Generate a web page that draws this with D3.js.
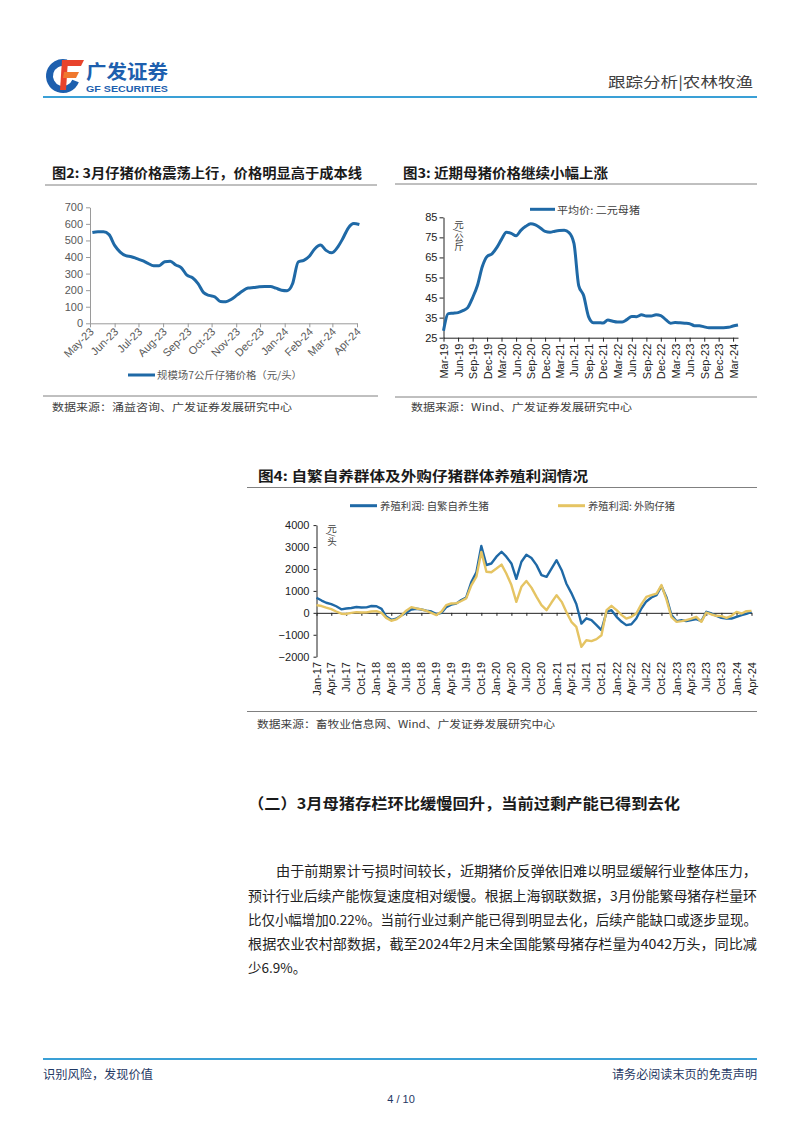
<!DOCTYPE html>
<html>
<head>
<meta charset="utf-8">
<script src="https://cdn.jsdelivr.net/npm/d3@7"></script>
<style>
  body { margin: 0; background: #fff; }
  svg text { font-family: "Noto Sans CJK SC", "Noto Sans", sans-serif; }
  svg .num text, svg text.num { font-family: "Liberation Sans", Arial, sans-serif; }
</style>
</head>
<body>
<div id="page"></div>
<script>
// ---- data ----

// fig 2: weekly piglet price (yuan/head), weeks from 2023-05-04
let pigletStart = "2023-05-04";
let pigletPrice = [548, 552, 552, 535, 470, 430, 408, 402, 390, 378,
    362, 348, 348, 372, 375, 352, 335, 290, 275, 240,
    185, 168, 160, 132, 130, 145, 170, 195, 213, 216,
    220, 222, 222, 212, 200, 197, 240, 370, 380, 405,
    450, 472, 440, 425, 455, 510, 575, 602, 596];
let pigletTicks = ["May-23", "Jun-23", "Jul-23", "Aug-23", "Sep-23", "Oct-23",
    "Nov-23", "Dec-23", "Jan-24", "Feb-24", "Mar-24", "Apr-24"];
let pigletYTicks = [0, 100, 200, 300, 400, 500, 600, 700];

// fig 3: monthly sow price (yuan/kg), Mar-19 .. Apr-24
let sowPrice = [28.5, 37, 37.2, 37.5, 38.5, 40, 45, 51, 60.5, 65.5,
    66.8, 70, 74, 77.5, 77, 75.8, 78.5, 80.5, 81.8, 81.2,
    79.7, 78, 77.6, 78.1, 78.4, 78.5, 77.4, 72, 51, 46,
    35.5, 32.5, 32.5, 32.3, 33.8, 33.2, 32.8, 32.8, 34, 35.6,
    35.5, 36.4, 35.8, 35.8, 36.4, 36, 34, 32.2, 32.6, 32.4,
    32.2, 32, 31, 31, 30.4, 30, 30, 30, 30, 30.2,
    30.8, 31.3];
let sowTicks = ["Mar-19", "Jun-19", "Sep-19", "Dec-19", "Mar-20", "Jun-20", "Sep-20",
    "Dec-20", "Mar-21", "Jun-21", "Sep-21", "Dec-21", "Mar-22", "Jun-22", "Sep-22",
    "Dec-22", "Mar-23", "Jun-23", "Sep-23", "Dec-23", "Mar-24"];
let sowYTicks = [25, 35, 45, 55, 65, 75, 85];

// fig 4: monthly profit (yuan/head), Jan-17 .. Apr-24
let profitSelf = [685, 560, 460, 400, 300, 160, 200, 220, 265, 245,
    250, 310, 300, 180, -170, -320, -270, -120, 10, 150,
    185, 150, 100, 60, -60, 0, 260, 375, 420, 580,
    700, 1400, 1850, 3050, 2180, 2250, 2560, 2785, 2560, 2250,
    1550, 2330, 2650, 2500, 2175, 1720, 1640, 2020, 2400, 1945,
    1340, 900, 400, -490, -250, -335, -560, -790, 45, 120,
    -180, -410, -560, -520, -260, 200, 520, 700, 805, 1220,
    700, -100, -380, -335, -380, -335, -290, -380, 45, -30,
    -135, -230, -260, -260, -180, -105, -45, 45];
let profitBought = [350, 310, 240, 170, 60, -40, -50, 0, 30, 15,
    20, 60, 80, 0, -230, -360, -300, -130, 100, 260,
    200, 160, 90, 0, -100, 60, 350, 425, 430, 540,
    660, 1250, 1650, 2780, 1870, 1850, 2020, 2200, 1795, 1265,
    500, 1185, 1450, 1150, 730, 350, 120, 470, 805, 500,
    45, -410, -640, -1550, -1250, -1290, -1200, -1020, 120, 320,
    120, -105, -260, -180, -30, 400, 730, 805, 880, 1265,
    600, -200, -410, -380, -335, -260, -180, -410, 15, -75,
    -135, -150, -230, -135, 45, -30, 75, 90];
let profitTicks = ["Jan-17", "Apr-17", "Jul-17", "Oct-17", "Jan-18", "Apr-18", "Jul-18", "Oct-18",
    "Jan-19", "Apr-19", "Jul-19", "Oct-19", "Jan-20", "Apr-20", "Jul-20", "Oct-20",
    "Jan-21", "Apr-21", "Jul-21", "Oct-21", "Jan-22", "Apr-22", "Jul-22", "Oct-22",
    "Jan-23", "Apr-23", "Jul-23", "Oct-23", "Jan-24", "Apr-24"];
let profitYTicks = [-2000, -1000, 0, 1000, 2000, 3000, 4000];
let profitNames = ["养殖利润: 自繁自养生猪", "养殖利润: 外购仔猪"];

let bodyLines = [
    "由于前期累计亏损时间较长，近期猪价反弹依旧难以明显缓解行业整体压力，",
    "预计行业后续产能恢复速度相对缓慢。根据上海钢联数据，3月份能繁母猪存栏量环",
    "比仅小幅增加0.22%。当前行业过剩产能已得到明显去化，后续产能缺口或逐步显现。",
    "根据农业农村部数据，截至2024年2月末全国能繁母猪存栏量为4042万头，同比减",
    "少6.9%。"
];

// ---- page ----
let svgWidth = 802, svgHeight = 1133;
let BLUE = "#1f69a6", GOLD = "#e5c463", HEADBLUE = "#3aa0d6";
let parseTick = d3.timeParse("%b-%y");
let fmtTick = d3.timeFormat("%b-%y");

let svg = d3.select("#page").append("svg")
    .attr("width", svgWidth)
    .attr("height", svgHeight);
svg.append("rect").attr("width", svgWidth).attr("height", svgHeight).attr("fill", "#fff");

function label(x, y, s, opts) {
    let t = svg.append("text").attr("x", x).attr("y", y).text(s)
        .attr("font-size", opts.size || 11)
        .attr("fill", opts.fill || "#222")
        .attr("text-anchor", opts.anchor || "start");
    if (opts.weight) t.attr("font-weight", opts.weight);
    if (opts.len) t.attr("textLength", opts.len).attr("lengthAdjust", "spacingAndGlyphs");
    if (opts.cls) t.attr("class", opts.cls);
    return t;
}
function rule(x1, x2, y, color, w) {
    svg.append("line").attr("x1", x1).attr("x2", x2).attr("y1", y).attr("y2", y)
        .attr("stroke", color).attr("stroke-width", w || 1);
}
// unit label written top-to-bottom
function verticalUnit(x, y, s) {
    svg.append("text")
        .attr("x", x).attr("y", y)
        .attr("writing-mode", "vertical-rl")
        .attr("font-size", 9.5)
        .attr("letter-spacing", -0.5)
        .attr("fill", "#404040")
        .text(s);
}

// header: logo + section tag
let logo = svg.append("g");
logo.append("path")
    .attr("transform", "translate(63,76)")
    .attr("d", d3.arc().innerRadius(10).outerRadius(17).startAngle(Math.PI * 0.62).endAngle(Math.PI * 2.08)())
    .attr("fill", "#1d5fae");
logo.append("path").attr("d", "M62,60 L84,60 L81,66 L64,66 Z").attr("fill", "#e8432c");
logo.append("path").attr("d", "M62,60 L68,60 L66,90 L60,90 Z").attr("fill", "#e8432c");
logo.append("path").attr("d", "M64,72 L79,72 L76,78 L63,78 Z").attr("fill", "#f0782e");
label(86, 79, "广发证券", { size: 19, weight: 700, fill: "#1d5fae", len: 82 });
label(86, 92, "GF SECURITIES", { size: 8.5, weight: 700, fill: "#1d5fae", len: 82, cls: "num" });
label(753, 87, "跟踪分析|农林牧渔", { size: 14, fill: "#404040", anchor: "end", len: 145 });
rule(43, 757, 97, HEADBLUE, 2);

// ---- fig 2 ----
label(52, 178, "图2: 3月仔猪价格震荡上行，价格明显高于成本线", { size: 13.5, weight: 700, fill: "#1a1a1a", len: 310 });
rule(45, 377, 185, "#808080", 1);

let x2 = d3.scaleTime().domain([parseTick("May-23"), parseTick("Apr-24")]).range([90, 357]);
let y2 = d3.scaleLinear().domain([0, 700]).range([323.3, 207.3]);
let pigletDates = pigletPrice.map((d, i) => d3.timeDay.offset(new Date(pigletStart + "T00:00"), 7 * i));

let ax2 = svg.append("g").attr("class", "num")
    .attr("transform", "translate(0,323.3)")
    .call(d3.axisBottom(x2).tickValues(pigletTicks.map(parseTick)).tickFormat(fmtTick).tickSize(4).tickSizeOuter(0));
ax2.selectAll("text")
    .attr("y", 0).attr("dy", 0)
    .attr("transform", "translate(4,9) rotate(-45)")
    .attr("text-anchor", "end")
    .attr("font-size", 11).attr("fill", "#595959");
let ay2 = svg.append("g").attr("class", "num")
    .attr("transform", "translate(90,0)")
    .call(d3.axisLeft(y2).tickValues(pigletYTicks).tickSize(4).tickSizeOuter(0));
ay2.selectAll("text").attr("font-size", 11).attr("fill", "#595959").attr("x", -7);
[ax2, ay2].forEach(a => {
    a.selectAll("path,line").attr("stroke", "#9a9a9a");
    a.select(".domain").attr("stroke-width", 1);
});

svg.append("path")
    .datum(pigletPrice)
    .attr("fill", "none")
    .attr("stroke", BLUE)
    .attr("stroke-width", 3)
    .attr("stroke-linejoin", "round")
    .attr("d", d3.line().x((d, i) => x2(pigletDates[i])).y(d => y2(d)).curve(d3.curveMonotoneX));

rule(128, 155, 375, BLUE, 3);
label(157, 379, "规模场7公斤仔猪价格（元/头）", { size: 10, fill: "#595959", len: 145 });
rule(43, 378, 396, "#808080", 1);
label(52, 411, "数据来源：涌益咨询、广发证券发展研究中心", { size: 10.5, fill: "#404040", len: 240 });

// ---- fig 3 ----
label(403, 178, "图3: 近期母猪价格继续小幅上涨", { size: 13.5, weight: 700, fill: "#1a1a1a", len: 205 });
rule(395, 757, 184, "#808080", 1);

let sowMonths = d3.timeMonth.range(new Date(2019, 2, 1), new Date(2024, 4, 1));
let x3 = d3.scaleTime().domain([new Date(2019, 2, 1), new Date(2024, 3, 1)]).range([443.5, 738]);
let y3 = d3.scaleLinear().domain([25, 85]).range([337.7, 217.3]);

let ax3 = svg.append("g").attr("class", "num")
    .attr("transform", "translate(0,337.7)")
    .call(d3.axisBottom(x3).tickValues(sowTicks.map(parseTick)).tickFormat(fmtTick).tickSize(4).tickSizeOuter(0));
ax3.selectAll("text")
    .attr("y", 0).attr("dy", 0)
    .attr("transform", "translate(4,6) rotate(-90)")
    .attr("text-anchor", "end")
    .attr("font-size", 11).attr("fill", "#222");
let ay3 = svg.append("g").attr("class", "num")
    .attr("transform", "translate(443.5,0)")
    .call(d3.axisLeft(y3).tickValues(sowYTicks).tickSize(4).tickSizeOuter(0));
ay3.selectAll("text").attr("font-size", 11).attr("fill", "#222").attr("x", -6);
[ax3, ay3].forEach(a => a.selectAll("path,line").attr("stroke", "#222"));

svg.append("path")
    .datum(sowPrice)
    .attr("fill", "none")
    .attr("stroke", BLUE)
    .attr("stroke-width", 3)
    .attr("stroke-linejoin", "round")
    .attr("d", d3.line().x((d, i) => x3(sowMonths[i])).y(d => y3(d)).curve(d3.curveMonotoneX));

rule(530, 555, 209.3, BLUE, 3);
label(557, 213.5, "平均价: 二元母猪", { size: 10, fill: "#404040", len: 83 });
verticalUnit(459, 220, "元/公斤");

rule(395, 757, 397, "#808080", 1);
label(411, 411, "数据来源：Wind、广发证券发展研究中心", { size: 10.5, fill: "#404040", len: 221 });

// ---- fig 4 ----
label(258, 481, "图4: 自繁自养群体及外购仔猪群体养殖利润情况", { size: 13.5, weight: 700, fill: "#1a1a1a", len: 330 });
rule(247, 757, 487.5, "#808080", 1);

let profitMonths = d3.timeMonth.range(new Date(2017, 0, 1), new Date(2024, 4, 1));
let x4 = d3.scaleTime().domain([new Date(2017, 0, 1), new Date(2024, 3, 1)]).range([316.5, 751.5]);
let y4 = d3.scaleLinear().domain([-2000, 4000]).range([656.7, 525.1]);

let ax4 = svg.append("g")
    .attr("transform", `translate(0,${y4(0)})`)
    .call(d3.axisBottom(x4).tickValues(profitTicks.map(parseTick)).tickFormat("").tickSize(3).tickSizeOuter(0));
let ay4 = svg.append("g").attr("class", "num")
    .attr("transform", "translate(316.5,0)")
    .call(d3.axisLeft(y4).tickValues(profitYTicks).tickFormat(d3.format("d")).tickSize(3).tickSizeOuter(0));
ay4.selectAll("text").attr("font-size", 11).attr("fill", "#222").attr("x", -7);
[ax4, ay4].forEach(a => a.selectAll("path,line").attr("stroke", "#222"));

svg.append("g").attr("class", "num")
    .selectAll("text")
    .data(profitTicks)
    .join("text")
    .attr("transform", d => `translate(${x4(parseTick(d)) + 4},662) rotate(-90)`)
    .attr("text-anchor", "end")
    .attr("font-size", 11)
    .attr("fill", "#222")
    .text(d => d);

let line4 = d3.line().x((d, i) => x4(profitMonths[i])).y(d => y4(d));
[[profitSelf, BLUE], [profitBought, GOLD]].forEach(s => {
    svg.append("path")
        .datum(s[0])
        .attr("fill", "none")
        .attr("stroke", s[1])
        .attr("stroke-width", 2.4)
        .attr("stroke-linejoin", "round")
        .attr("d", line4);
});

rule(350, 377, 505.7, BLUE, 3);
label(380, 509.5, profitNames[0], { size: 10, fill: "#404040", len: 109 });
rule(558, 585, 505.7, GOLD, 3);
label(588, 509.5, profitNames[1], { size: 10, fill: "#404040", len: 87 });
verticalUnit(332, 524, "元/头");

rule(247, 757, 711.5, "#808080", 1);
label(257, 728, "数据来源：畜牧业信息网、Wind、广发证券发展研究中心", { size: 10.5, fill: "#404040", len: 298 });

// ---- body text ----
label(248, 809, "（二）3月母猪存栏环比缓慢回升，当前过剩产能已得到去化", { size: 15, weight: 700, fill: "#1a1a1a", len: 432 });
let bodyY = [876, 900.5, 925, 949, 973];
bodyLines.forEach((s, i) => {
    let x0 = i === 0 ? 276 : 248;
    let t = label(x0, bodyY[i], s, { size: 13.5, fill: "#222" });
    if (i < 4) t.attr("textLength", 757 - x0).attr("lengthAdjust", "spacingAndGlyphs");
});

// ---- footer ----
rule(43, 757, 1059, HEADBLUE, 2);
label(43, 1079, "识别风险，发现价值", { size: 12, fill: "#1f3864", len: 110 });
label(757, 1079, "请务必阅读末页的免责声明", { size: 12, fill: "#1f3864", anchor: "end", len: 145 });
label(401, 1103, "4 / 10", { size: 11, fill: "#1f3864", anchor: "middle", cls: "num" });
</script>
</body>
</html>
